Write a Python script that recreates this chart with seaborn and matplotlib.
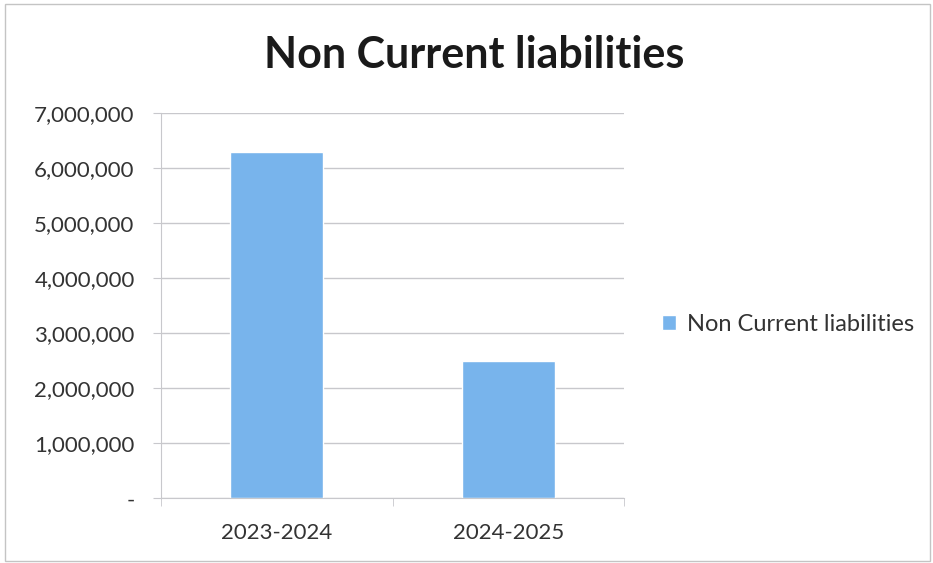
import matplotlib
matplotlib.use("Agg")
import matplotlib.pyplot as plt
import matplotlib.ticker as mticker
from matplotlib.patches import Rectangle
import seaborn as sns

# data
years = ["2023-2024", "2024-2025"]
liabilities = [6300000, 2500000]
series_name = "Non Current liabilities"
y_ticks = [0, 1000000, 2000000, 3000000, 4000000, 5000000, 6000000, 7000000]

sns.set_style("white")
plt.rcParams['font.family'] = ['Lato', 'DejaVu Sans']

bar_color = "#78B4EC"
grid_color = "#C8C8CC"
text_color = "#333333"

fig = plt.figure(figsize=(9.33, 5.63), dpi=100)
ax = fig.add_axes([0.1726, 0.1149, 0.4962, 0.6839])

sns.barplot(x=years, y=liabilities, color=bar_color, width=0.4,
            label=series_name, ax=ax, saturation=1)

ax.set_ylim(0, 7000000)
ax.set_yticks(y_ticks)
ax.yaxis.set_major_formatter(mticker.FuncFormatter(
    lambda v, p: "-" if v == 0 else f"{int(v):,}"))
ax.yaxis.grid(True, color=grid_color, linewidth=1)
ax.set_axisbelow(True)

for s in ["top", "right"]:
    ax.spines[s].set_visible(False)
ax.spines["left"].set_color(grid_color)
ax.spines["bottom"].set_color(grid_color)

ax.tick_params(axis="y", left=True, length=6, color=grid_color,
               labelsize=16, labelcolor=text_color, pad=13)
ax.tick_params(axis="x", bottom=False, labelsize=16, labelcolor=text_color, pad=14)

# category boundary ticks on the x axis, like the original
ax.set_xticks([-0.5, 0.5, 1.5], minor=True)
ax.tick_params(axis="x", which="minor", bottom=True, length=6, color=grid_color)
ax.set_xlim(-0.5, 1.5)
ax.set_xlabel("")
ax.set_ylabel("")

fig.suptitle(series_name, x=0.508, y=0.902, va="center", fontsize=31,
             fontweight="bold", color="#1A1A1A")

leg = ax.legend(loc="center left", bbox_to_anchor=(0.687, 0.4245),
                bbox_transform=fig.transFigure, frameon=False,
                handlelength=0.6, handleheight=0.6, handletextpad=0.45,
                fontsize=17, labelcolor=text_color)

# chart border
fig.patches.append(Rectangle((0.005, 0.003), 0.992, 0.99, transform=fig.transFigure,
                             fill=False, edgecolor="#C4C4C4", linewidth=1))

fig.savefig("out.png", dpi=100)
